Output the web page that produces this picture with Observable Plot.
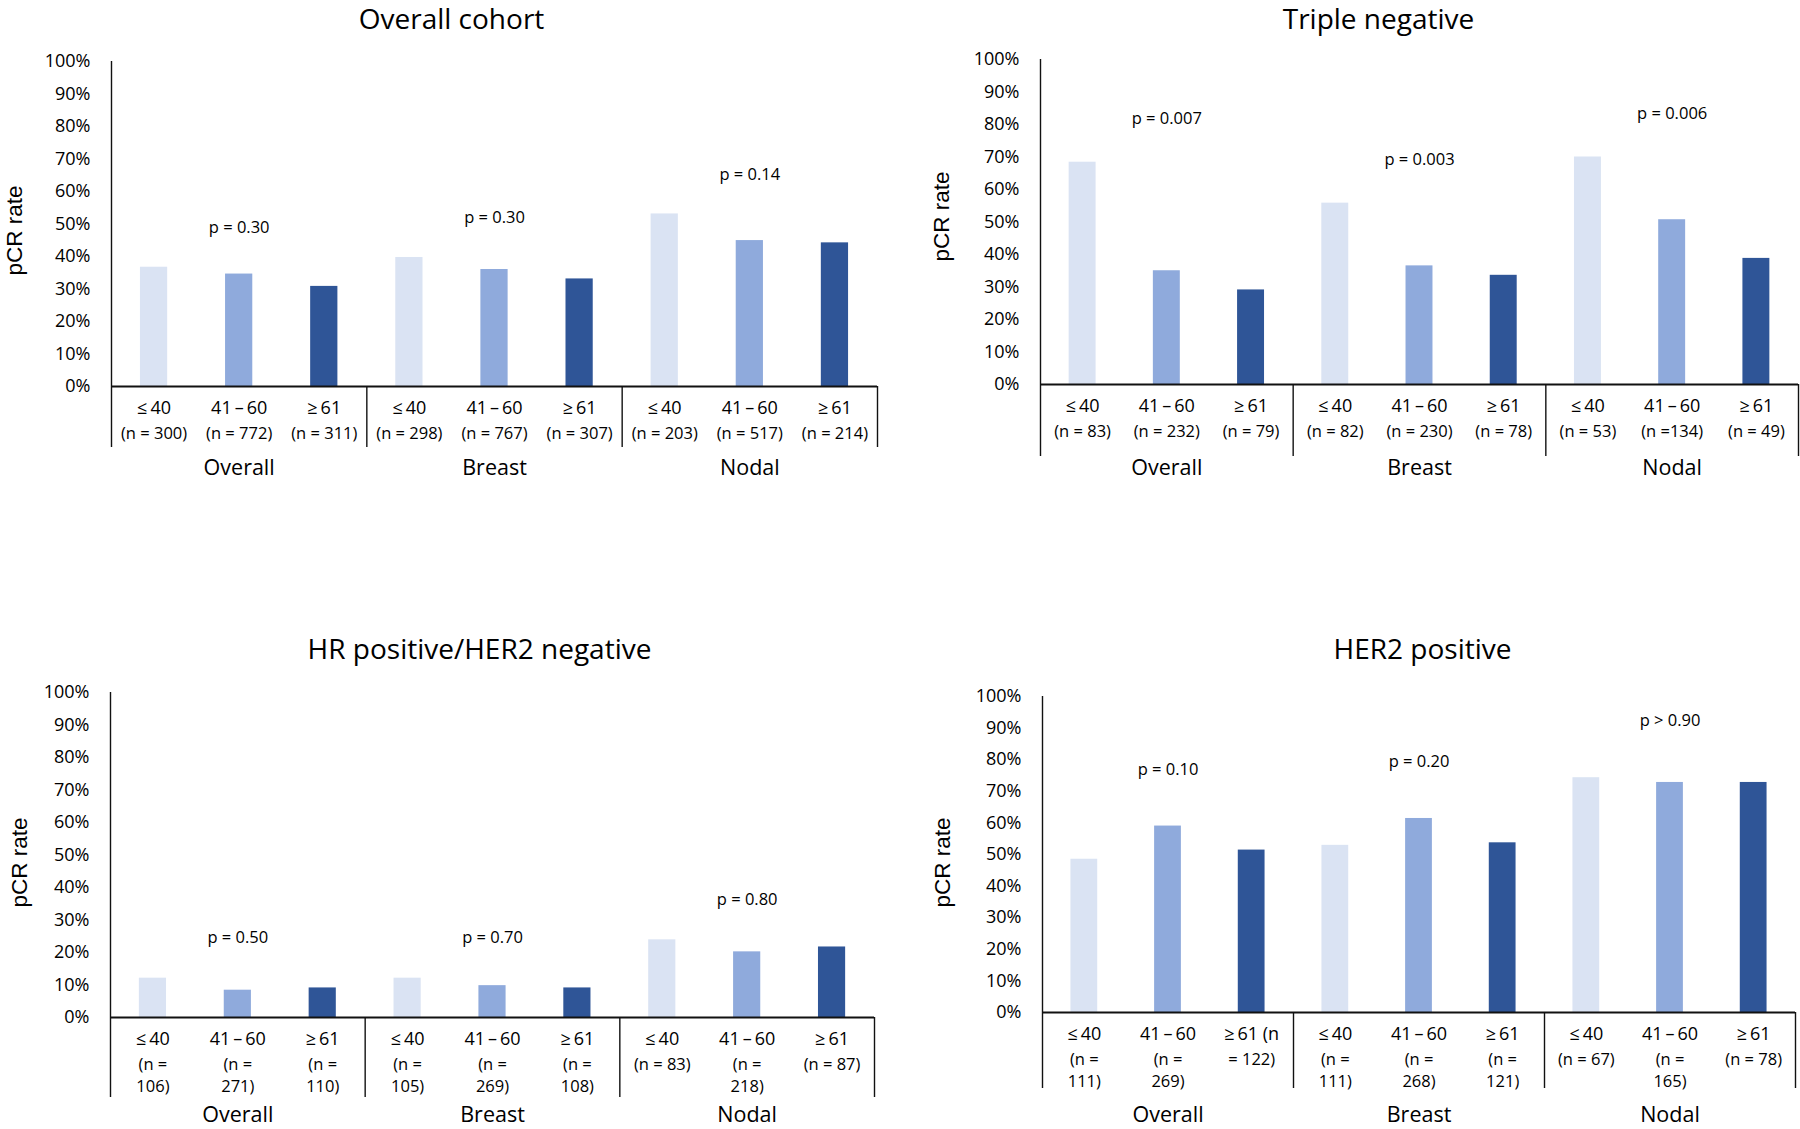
<!DOCTYPE html>
<html>
<head>
<meta charset="utf-8">
<script src="https://cdn.jsdelivr.net/npm/d3@7"></script>
<script src="https://cdn.jsdelivr.net/npm/@observablehq/plot@0.6"></script>
<style>
  html, body { margin: 0; padding: 0; background: #fff; }
  #chart { position: relative; width: 1800px; height: 1129px; overflow: hidden; background: #fff; }
  .panel { position: absolute; }
</style>
</head>
<body>
<div id="chart"></div>
<script>
// ---------- data ----------
const groups = ["Overall", "Breast", "Nodal"];
const ageGroups = ["≤40", "41–60", "≥61"];
const yTicks = [0, 10, 20, 30, 40, 50, 60, 70, 80, 90, 100];

// Overall cohort
const overallCohortRates = [36.7, 34.6, 30.8, 39.7, 36.0, 33.1, 53.1, 44.9, 44.2];
const overallCohortTicks = [
  "≤\u200940\n(n = 300)", "41\u2009–\u200960\n(n = 772)", "≥\u200961\n(n = 311)",
  "≤\u200940\n(n = 298)", "41\u2009–\u200960\n(n = 767)", "≥\u200961\n(n = 307)",
  "≤\u200940\n(n = 203)", "41\u2009–\u200960\n(n = 517)", "≥\u200961\n(n = 214)"
];
const overallCohortP = ["p = 0.30", "p = 0.30", "p = 0.14"];

// Triple negative
const tripleNegRates = [68.4, 35.0, 29.1, 55.8, 36.5, 33.6, 70.0, 50.7, 38.8];
const tripleNegTicks = [
  "≤\u200940\n(n = 83)", "41\u2009–\u200960\n(n = 232)", "≥\u200961\n(n = 79)",
  "≤\u200940\n(n = 82)", "41\u2009–\u200960\n(n = 230)", "≥\u200961\n(n = 78)",
  "≤\u200940\n(n = 53)", "41\u2009–\u200960\n(n =134)", "≥\u200961\n(n = 49)"
];
const tripleNegP = ["p = 0.007", "p = 0.003", "p = 0.006"];

// HR positive / HER2 negative
const hrPosRates = [12.1, 8.4, 9.1, 12.1, 9.8, 9.1, 23.9, 20.2, 21.7];
const hrPosTicks = [
  "≤\u200940\n(n =\n106)", "41\u2009–\u200960\n(n =\n271)", "≥\u200961\n(n =\n110)",
  "≤\u200940\n(n =\n105)", "41\u2009–\u200960\n(n =\n269)", "≥\u200961\n(n =\n108)",
  "≤\u200940\n(n = 83)", "41\u2009–\u200960\n(n =\n218)", "≥\u200961\n(n = 87)"
];
const hrPosP = ["p = 0.50", "p = 0.70", "p = 0.80"];

// HER2 positive
const her2PosRates = [48.5, 59.0, 51.4, 52.9, 61.4, 53.7, 74.3, 72.8, 72.8];
const her2PosTicks = [
  "≤\u200940\n(n =\n111)", "41\u2009–\u200960\n(n =\n269)", "≥\u200961 (n\n= 122)",
  "≤\u200940\n(n =\n111)", "41\u2009–\u200960\n(n =\n268)", "≥\u200961\n(n =\n121)",
  "≤\u200940\n(n = 67)", "41\u2009–\u200960\n(n =\n165)", "≥\u200961\n(n = 78)"
];
const her2PosP = ["p = 0.10", "p = 0.20", "p > 0.90"];

// ---------- styles / layout ----------
const barColors = ["#dae3f3", "#8faadc", "#2f5597"];
const BAR = 0.32;
const FONT = "'Open Sans', 'Noto Sans', sans-serif";

const panels = [
  {title: "Overall cohort", rates: overallCohortRates, ticks: overallCohortTicks, p: overallCohortP,
   left: 0, top: 0, width: 900, height: 480, mt: 61, mb: 94, ml: 111, mr: 23,
   titleX: 451, titleY: 20, ylabX: 14, ylabY: 230, pOffset: 12.2, drop: 61, groupDy: 82},
  {title: "Triple negative", rates: tripleNegRates, ticks: tripleNegTicks, p: tripleNegP,
   left: 900, top: 0, width: 900, height: 480, mt: 59, mb: 96, ml: 140, mr: 2,
   titleX: 478, titleY: 20, ylabX: 41.5, ylabY: 216, pOffset: 13.4, drop: 72, groupDy: 84},
  {title: "HR positive/HER2 negative", rates: hrPosRates, ticks: hrPosTicks, p: hrPosP,
   left: 0, top: 600, width: 900, height: 529, mt: 92, mb: 112, ml: 110, mr: 26,
   titleX: 479, titleY: 50, ylabX: 19, ylabY: 262, pOffset: 12.4, drop: 80, groupDy: 98},
  {title: "HER2 positive", rates: her2PosRates, ticks: her2PosTicks, p: her2PosP,
   left: 900, top: 600, width: 900, height: 529, mt: 96, mb: 117, ml: 142, mr: 5,
   titleX: 522, titleY: 50, ylabX: 42.5, ylabY: 262, pOffset: 17.9, drop: 76, groupDy: 103}
];

const chart = document.getElementById("chart");

for (const cfg of panels) {
  const rows = cfg.rates.map((v, i) => ({i, v, age: ageGroups[i % 3], tick: cfg.ticks[i]}));
  const plot = Plot.plot({
    width: cfg.width,
    height: cfg.height,
    marginTop: cfg.mt,
    marginBottom: cfg.mb,
    marginLeft: cfg.ml,
    marginRight: cfg.mr,
    style: {fontFamily: FONT, fontSize: "18px", color: "#000", background: "transparent", overflow: "visible"},
    x: {domain: [0, 9], axis: null},
    y: {domain: [0, 100], ticks: yTicks, tickFormat: d => d + "%", tickSize: 0, tickPadding: 21, label: null},
    color: {domain: ageGroups, range: barColors},
    marks: [
      Plot.rect(rows, {
        x1: d => d.i + 0.5 - BAR / 2,
        x2: d => d.i + 0.5 + BAR / 2,
        y1: 0, y2: "v", fill: "age"
      }),
      Plot.ruleY([0], {stroke: "#111", strokeWidth: 2}),
      Plot.ruleX([0], {x: d => d, y1: 100, y2: 0, insetBottom: -cfg.drop, stroke: "#111", strokeWidth: 1.4}),
      Plot.ruleX([3, 6, 9], {x: d => d, y1: 0, y2: 0, insetBottom: -cfg.drop, stroke: "#111", strokeWidth: 1.4}),
      Plot.text(rows, {
        x: d => d.i + 0.5, y: 0, text: d => d.tick.split("\n")[0],
        dy: 21.5, fontSize: 18, lineAnchor: "middle", fill: "#000"
      }),
      Plot.text(rows, {
        x: d => d.i + 0.5, y: 0, text: d => d.tick.split("\n").slice(1).join("\n"),
        dy: 37.5, fontSize: 16.5, lineAnchor: "top", lineHeight: 1.3, fill: "#000"
      }),
      Plot.text(groups, {
        x: (d, i) => i * 3 + 1.5, y: 0, text: d => d,
        dy: cfg.groupDy, fontSize: 21.5, lineAnchor: "middle", fill: "#000"
      }),
      Plot.text(cfg.p, {
        x: (d, i) => i * 3 + 1.5,
        y: (d, i) => d3.max(cfg.rates.slice(i * 3, i * 3 + 3)) + cfg.pOffset,
        text: d => d, fontSize: 16.5, lineAnchor: "middle", fill: "#000"
      }),
      Plot.text([cfg.title], {
        frameAnchor: "top-left", dx: cfg.titleX - cfg.ml, dy: cfg.titleY - cfg.mt,
        text: d => d, textAnchor: "middle", lineAnchor: "middle", fontSize: 28, fill: "#000"
      }),
      Plot.text(["pCR rate"], {
        frameAnchor: "top-left", dx: cfg.ylabX - cfg.ml, dy: cfg.ylabY - cfg.mt,
        text: d => d, rotate: -90, textAnchor: "middle", lineAnchor: "middle",
        fontSize: 22.5, fontFamily: "'Liberation Sans', Arial, sans-serif", fill: "#000"
      })
    ]
  });
  const holder = document.createElement("div");
  holder.className = "panel";
  holder.style.left = cfg.left + "px";
  holder.style.top = cfg.top + "px";
  holder.appendChild(plot);
  chart.appendChild(holder);
}
</script>
</body>
</html>
